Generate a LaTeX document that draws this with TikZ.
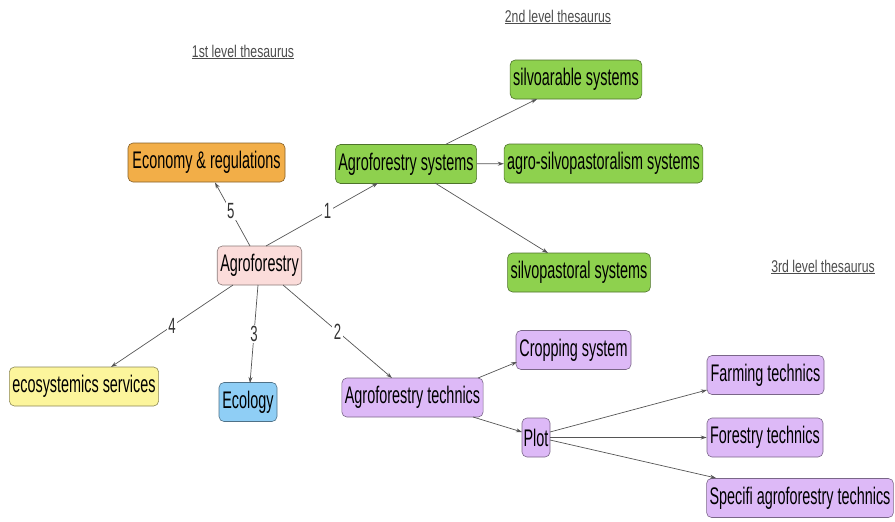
\documentclass[tikz,border=0pt]{standalone}
\usepackage{fontspec}
\setmainfont[FakeStretch=0.6]{Liberation Sans}
\newfontfamily\hdrfont[FakeStretch=0.72]{Liberation Sans}
\usetikzlibrary{arrows.meta}
\definecolor{orangeF}{HTML}{F2AE48}
\definecolor{pinkF}{HTML}{FBDCDA}
\definecolor{greenF}{HTML}{8ED14E}
\definecolor{purpleF}{HTML}{DDB9F7}
\definecolor{yellowF}{HTML}{FCF59C}
\definecolor{blueF}{HTML}{8FCEF5}
\definecolor{edgeC}{HTML}{555555}
\tikzset{
  box/.style={draw=#1!55!black, fill=#1, rounded corners=5pt, line width=0.6pt,
    minimum height=39pt, inner xsep=3pt, font=\fontsize{24}{26}\selectfont},
  conn/.style={draw=edgeC, line width=0.7pt, -{Stealth[length=6pt,width=4pt]}},
  elabel/.style={fill=white, inner sep=1.5pt, font=\fontsize{22}{24}\selectfont, text=black!80},
  header/.style={text=black!70, font=\hdrfont\fontsize{17}{19}\selectfont}
}
\begin{document}
\begin{tikzpicture}[x=1pt,y=-1pt]
\useasboundingbox (0,0) rectangle (895,522);
\node[header] (h1) at (243,52) {\underline{1st level thesaurus}};
\node[header] (h2) at (558,17) {\underline{2nd level thesaurus}};
\node[header] (h3) at (823,267) {\underline{3rd level thesaurus}};

\node[box=pinkF, minimum width=83pt] (agro) at (259.5,265.5) {Agroforestry};
\node[box=orangeF, minimum width=157pt] (eco) at (206.5,162.5) {Economy \& regulations};
\node[box=greenF, minimum width=140pt] (sys) at (406,164) {Agroforestry systems};
\node[box=greenF, minimum width=130pt] (silvoa) at (576,79.5) {silvoarable systems};
\node[box=greenF, minimum width=197pt] (agsp) at (603.5,163.5) {agro-silvopastoralism systems};
\node[box=greenF, minimum width=142pt] (silvop) at (579,272.5) {silvopastoral systems};
\node[box=purpleF, minimum width=115pt] (crop) at (573.5,350) {Cropping system};
\node[box=purpleF, minimum width=141pt] (tech) at (412.5,397.5) {Agroforestry technics};
\node[box=purpleF, minimum width=28pt, inner xsep=1pt] (plot) at (536,437.5) {Plot};
\node[box=purpleF, minimum width=117pt] (farm) at (765.5,375) {Farming technics};
\node[box=purpleF, minimum width=116pt] (forest) at (765,437.5) {Forestry technics};
\node[box=purpleF, minimum width=186pt] (spec) at (800,498) {Specifi agroforestry technics};
\node[box=yellowF, minimum width=148pt] (serv) at (84,386.5) {ecosystemics services};
\node[box=blueF, minimum width=58pt] (ecol) at (248,402) {Ecology};

\coordinate (a5) at (250,246);
\coordinate (a1) at (266,246);
\coordinate (a4) at (233,285);
\coordinate (a3) at (258,285);
\coordinate (a2) at (283,285);

\draw[conn] (a5) -- node[elabel, pos=0.55] (l5) {5} (215,182.5);
\draw[conn] (a1) -- node[elabel, pos=0.55] (l1) {1} (378,183);
\draw[conn] (a4) -- node[elabel, pos=0.5] (l4) {4} (111,367);
\draw[conn] (a3) -- node[elabel, pos=0.5] (l3) {3} (250,383);
\draw[conn] (a2) -- node[elabel, pos=0.5] (l2) {2} (392,378);

\draw[conn] (sys.north east) ++(-31,0) -- (537,99);
\draw[conn] (sys) -- (agsp);
\draw[conn] (435,183) -- (548,253);
\draw[conn] (478,378) -- (517,362);
\draw[conn] (473,417) -- (522,432);
\draw[conn] (550,432) -- (707,390);
\draw[conn] (plot) -- (forest);
\draw[conn] (550,440) -- (716,478);
\end{tikzpicture}
\end{document}
